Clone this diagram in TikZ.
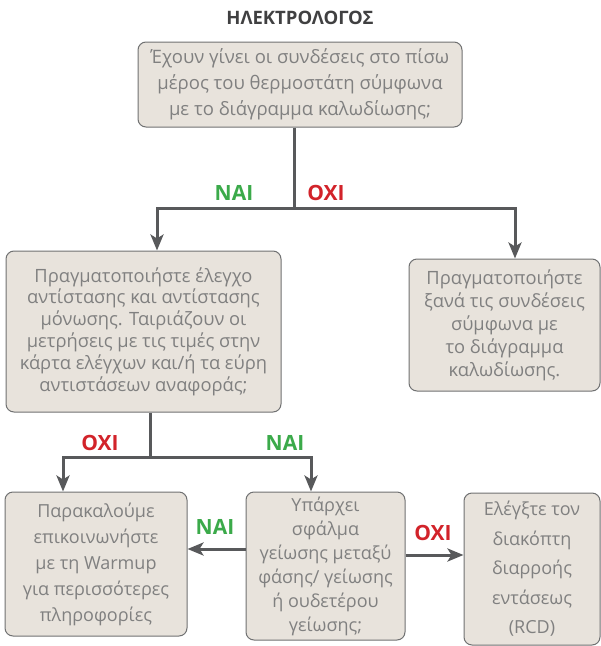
\documentclass[tikz,border=0pt]{standalone}
\usepackage{fontspec}
\setmainfont{Open Sans}
\usetikzlibrary{arrows.meta}
\definecolor{boxfill}{HTML}{E8E3DC}
\definecolor{boxdraw}{HTML}{707172}
\definecolor{txt}{HTML}{808080}
\definecolor{arr}{HTML}{58595B}
\definecolor{nai}{HTML}{3BAA4A}
\definecolor{oxi}{HTML}{D2232A}
\definecolor{ttl}{HTML}{404041}
\tikzset{
  box/.style={draw=boxdraw, line width=1pt, fill=boxfill, rounded corners=8pt,
    align=center, text=txt, inner sep=0pt},
  conn/.style={draw=arr, line width=3pt},
  arrow/.style={conn, -{Stealth[length=16pt,width=13pt,inset=4pt]}},
  lab/.style={font=\bfseries\fontsize{21}{21}\selectfont}
}
\begin{document}
\begin{tikzpicture}[x=1pt,y=-1pt]
\useasboundingbox (0,0) rectangle (601,646);
\node[font=\bfseries\fontsize{18.5}{18.5}\selectfont, text=ttl] (title) at (300,18) {ΗΛΕΚΤΡΟΛΟΓΟΣ};
\node[box, minimum width=324pt, minimum height=85pt, font=\fontsize{18.5}{26}\selectfont] (q1) at (300,84.5)
  {Έχουν γίνει οι συνδέσεις στο πίσω\\μέρος του θερμοστάτη σύμφωνα\\με το διάγραμμα καλωδίωσης;};
\node[box, minimum width=275pt, minimum height=161pt, font=\fontsize{18.3}{21.8}\selectfont] (q2) at (143.5,331.5)
  {Πραγματοποιήστε έλεγχο\\αντίστασης και αντίστασης\\μόνωσης. Ταιριάζουν οι\\μετρήσεις με τις τιμές στην\\κάρτα ελέγχων και/ή τα εύρη\\αντιστάσεων αναφοράς;};
\node[box, minimum width=191pt, minimum height=132pt, font=\fontsize{18.3}{23}\selectfont] (q3) at (504.5,325)
  {Πραγματοποιήστε\\ξανά τις συνδέσεις\\σύμφωνα με\\το διάγραμμα\\καλωδίωσης.};
\node[box, minimum width=182pt, minimum height=144pt, font=\fontsize{18}{26}\selectfont] (q4) at (96,564)
  {Παρακαλούμε\\επικοινωνήστε\\με τη Warmup\\για περισσότερες\\πληροφορίες};
\node[box, minimum width=159pt, minimum height=148pt, font=\fontsize{18}{24}\selectfont] (q5) at (325.5,566)
  {Υπάρχει\\σφάλμα\\γείωσης μεταξύ\\φάσης/ γείωσης\\ή ουδετέρου\\γείωσης;};
\node[box, minimum width=136pt, minimum height=152pt, font=\fontsize{18}{29.5}\selectfont] (q6) at (532,569)
  {Ελέγξτε τον\\διακόπτη\\διαρροής\\εντάσεως\\(RCD)};
\coordinate (j1) at (294,208);
\coordinate (j2) at (150,457.5);
\draw[conn] ([xshift=-6pt]q1.south) -- (j1);
\draw[arrow] (j1) -| ([xshift=13.5pt]q2.north);
\draw[arrow] (j1) -| ([xshift=10.5pt]q3.north);
\draw[conn] ([xshift=6.5pt]q2.south) -- (j2);
\draw[arrow] (j2) -| ([xshift=-33pt]q4.north);
\draw[arrow] (j2) -| ([xshift=-14.5pt]q5.north);
\draw[arrow] ([yshift=17pt]q5.west) -- ([yshift=17pt]q5.west -| q4.east);
\draw[arrow] ([yshift=11pt]q5.east) -- ([yshift=11pt]q5.east -| q6.west);
\node[lab, text=nai] (l1) at (234,193) {ΝΑΙ};
\node[lab, text=oxi] (l2) at (326,193) {ΟΧΙ};
\node[lab, text=oxi] (l3) at (100,443) {ΟΧΙ};
\node[lab, text=nai] (l4) at (285,443) {ΝΑΙ};
\node[lab, text=nai] (l5) at (215,527) {ΝΑΙ};
\node[lab, text=oxi] (l6) at (433,533) {ΟΧΙ};
\end{tikzpicture}
\end{document}
